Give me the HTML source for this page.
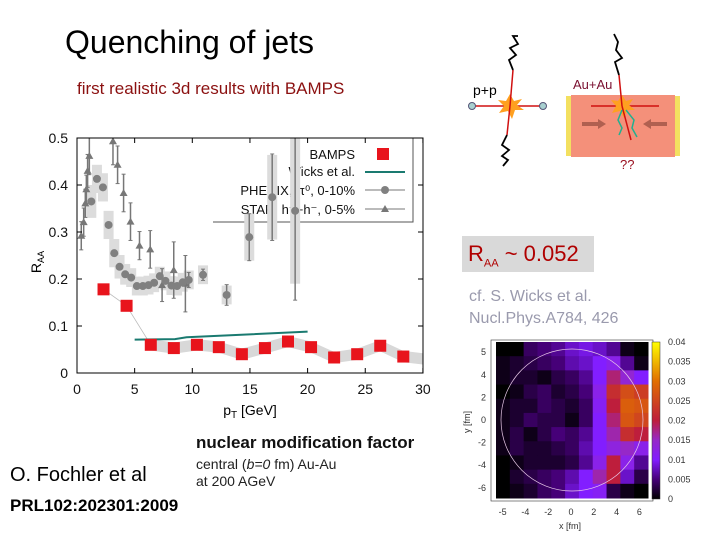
<!DOCTYPE html>
<html><head><meta charset="utf-8"><style>
body{margin:0;background:#fff;width:720px;height:540px;overflow:hidden;position:relative;font-family:"Liberation Sans",sans-serif}
.t{position:absolute;white-space:nowrap}
</style></head><body>
<div class="t" style="left:65px;top:24px;font-size:32px;color:#000">Quenching of jets</div>
<div class="t" style="left:77px;top:79px;font-size:17px;color:#8b1010">first realistic 3d results with BAMPS</div>
<div class="t" style="left:462px;top:236px;width:132px;height:36px;background:#d9d9d9;color:#b00000;font-size:22px;line-height:36px;padding-left:6px;box-sizing:border-box">R<sub style="font-size:11px">AA</sub> ~ 0.052</div>
<div class="t" style="left:469px;top:286px;font-size:16px;color:#9a9aad;line-height:22px">cf. S. Wicks et al.<br>Nucl.Phys.A784, 426</div>
<div class="t" style="left:196px;top:433px;font-size:17px;font-weight:bold;color:#111">nuclear modification factor</div>
<div class="t" style="left:196px;top:456px;font-size:14px;color:#222;line-height:17px">central (<i>b=0</i> fm) Au-Au<br>at 200 AGeV</div>
<div class="t" style="left:10px;top:464px;font-size:20px;color:#000">O. Fochler et al</div>
<div class="t" style="left:10px;top:496px;font-size:17px;font-weight:bold;color:#000">PRL102:202301:2009</div>

<svg id="diag" width="720" height="540" style="position:absolute;left:0;top:0" xmlns="http://www.w3.org/2000/svg">
<g>
<line x1="473" y1="106" x2="543" y2="106" stroke="#d01010" stroke-width="1.5"/>
<circle cx="472" cy="106" r="3.5" fill="#a8d0d0" stroke="#557"/>
<circle cx="543" cy="106" r="3.5" fill="#a8d0d0" stroke="#557"/>
<polygon points="510,94 514,101 522,99 517,105 524,110 515,110 512,119 508,111 499,113 504,106 498,100 506,101" fill="#ffa020"/>
<line x1="510" y1="106" x2="513" y2="70" stroke="#d01010" stroke-width="1.5"/>
<line x1="510" y1="106" x2="507" y2="135" stroke="#d01010" stroke-width="1.5"/>
<path d="M513 70 L509 60 L516 55 L510 48 L518 44 L513 36 L518 36" stroke="#000" fill="none" stroke-width="1.8"/>
<path d="M507 135 L502 145 L509 150 L502 156 L508 160 L503 166" stroke="#000" fill="none" stroke-width="1.8"/>
<text x="473" y="95" font-size="14" font-family="Liberation Sans" fill="#000">p+p</text>
</g>
<g>
<rect x="566" y="96" width="114" height="60" fill="#f3e060"/>
<rect x="571" y="95" width="104" height="62" fill="#f4907a"/>
<line x1="591" y1="106" x2="659" y2="106" stroke="#d01010" stroke-width="1.5"/>
<polygon points="622,95 626,101 633,99 629,105 635,110 627,110 624,118 620,111 612,113 616,106 611,100 618,101" fill="#ffa020"/>
<line x1="622" y1="106" x2="619" y2="75" stroke="#d01010" stroke-width="1.5"/>
<line x1="622" y1="106" x2="631" y2="140" stroke="#d01010" stroke-width="1.5"/>
<path d="M619 75 L615 62 L622 58 L616 50 L618 42 L614 34" stroke="#000" fill="none" stroke-width="1.8"/>
<path d="M582 124 L600 124" stroke="#b06050" stroke-width="4"/><polygon points="598,119 606,124 598,129" fill="#b06050"/>
<path d="M667 124 L649 124" stroke="#b06050" stroke-width="4"/><polygon points="651,119 643,124 651,129" fill="#b06050"/>
<path d="M622 110 L618 120 L622 128 L619 135" stroke="#20b090" fill="none" stroke-width="1.5"/>
<path d="M626 110 L634 120 L632 128 L637 137" stroke="#20b090" fill="none" stroke-width="1.5"/>
<text x="573" y="89" font-size="13" font-family="Liberation Sans" fill="#7a1030">Au+Au</text>
<text x="620" y="169" font-size="13" font-family="Liberation Sans" fill="#9a1020">??</text>
</g>
</svg>

<svg id="chart" width="720" height="540" style="position:absolute;left:0;top:0" xmlns="http://www.w3.org/2000/svg" font-family="Liberation Sans"></svg>
<svg id="heat" width="720" height="540" style="position:absolute;left:0;top:0" xmlns="http://www.w3.org/2000/svg" font-family="Liberation Sans"></svg>

<script>
const xTicks=[0,5,10,15,20,25,30];
const yTicks=[0,0.1,0.2,0.3,0.4,0.5];
const yTickLabels=["0","0.1","0.2","0.3","0.4","0.5"];
const bampsX=[2.3,4.3,6.4,8.4,10.4,12.3,14.3,16.3,18.3,20.3,22.3,24.3,26.3,28.3];
const bampsY=[0.178,0.143,0.06,0.053,0.06,0.055,0.04,0.053,0.067,0.055,0.033,0.04,0.058,0.035];
const wicksX=[5,8.5,9.5,20];
const wicksY=[0.071,0.072,0.076,0.088];
const phenixX=[1.24,1.73,2.25,2.74,3.23,3.69,4.18,4.70,5.19,5.71,6.2,6.69,7.18,7.67,8.19,8.68,9.17,9.69,10.93,12.98,14.94,16.93,18.92];
const phenixY=[0.365,0.413,0.395,0.315,0.255,0.226,0.21,0.203,0.185,0.185,0.187,0.192,0.206,0.196,0.186,0.185,0.193,0.198,0.209,0.166,0.289,0.374,0.345];
const phenixErr=[0.005,0.005,0.005,0.005,0.005,0.005,0.005,0.005,0.005,0.005,0.005,0.005,0.005,0.005,0.005,0.005,0.005,0.016,0.012,0.022,0.05,0.092,0.19];
const phenixSys=[0.035,0.03,0.03,0.03,0.03,0.025,0.022,0.02,0.02,0.02,0.02,0.02,0.02,0.02,0.02,0.02,0.02,0.02,0.02,0.02,0.05,0.09,0.155];
const starX=[0.37,0.58,0.72,0.81,0.92,1.07,3.12,3.52,4.04,4.64,5.42,6.35,7.38,8.39,9.4];
const starY=[0.292,0.321,0.361,0.391,0.43,0.462,0.493,0.443,0.383,0.322,0.271,0.263,0.187,0.219,0.19];
const starErr=[0.03,0.03,0.03,0.03,0.035,0.04,0.05,0.04,0.04,0.04,0.03,0.04,0.035,0.06,0.06];

const X=v=>77+v*11.53, Y=v=>373-v*470;
const NS="http://www.w3.org/2000/svg";
function mk(p,tag,a){const e=document.createElementNS(NS,tag);for(const k in a)e.setAttribute(k,a[k]);p.appendChild(e);return e;}
const svg=document.getElementById('chart');
// legend (drawn first, transparent, so data shows on top)
const lg=mk(svg,'g',{});


mk(lg,'polyline',{points:'213,222 413,222 413,138',fill:'none',stroke:'#555'});
[['BAMPS',159],['Wicks et al.',176],['PHENIX, π⁰, 0-10%',195],['STAR, h⁺+h⁻, 0-5%',214]].forEach(([s,y])=>{const e=mk(lg,'text',{x:355,y:y,'font-size':13,'text-anchor':'end',fill:'#111'});e.textContent=s;
 
 });
mk(lg,'rect',{x:377,y:148,width:12,height:12,fill:'#e8141c'});
mk(lg,'line',{x1:365,x2:405,y1:172,y2:172,stroke:'#1a7a70','stroke-width':2});
mk(lg,'line',{x1:365,x2:405,y1:190,y2:190,stroke:'#777'});mk(lg,'circle',{cx:385,cy:190,r:4,fill:'#808080'});
mk(lg,'line',{x1:365,x2:405,y1:209,y2:209,stroke:'#777'});mk(lg,'polygon',{points:'385,205 381,212 389,212',fill:'#777'});

const clip=mk(svg,'clipPath',{id:'pc'});mk(clip,'rect',{x:77,y:138,width:346,height:235});
const g=mk(svg,'g',{'clip-path':'url(#pc)'});


phenixX.forEach((x,i)=>{const r=mk(g,'rect',{x:X(x)-5,y:Y(phenixY[i]+phenixSys[i]),width:10,height:phenixSys[i]*2*470,fill:'#dcdcdc'});

});
let up=[],dn=[];
bampsX.forEach((x,i)=>{if(x>5){up.push(X(x)+','+Y(bampsY[i]+0.012));dn.unshift(X(x)+','+Y(bampsY[i]-0.012));}});
up.push(X(30)+','+Y(bampsY[bampsY.length-1]-0.005+0.012));dn.unshift(X(30)+','+Y(bampsY[bampsY.length-1]-0.005-0.012));
const bb=mk(g,'polygon',{points:up.concat(dn).join(' '),fill:'#d8d8d8'});


mk(g,'polyline',{points:bampsX.slice(0,3).map((x,i)=>X(x)+','+Y(bampsY[i])).join(' '),fill:'none',stroke:'#bbb','stroke-width':0.8});
starX.forEach((x,i)=>{
 mk(g,'line',{x1:X(x),x2:X(x),y1:Y(starY[i]-starErr[i]),y2:Y(starY[i]+starErr[i]),stroke:'#777','stroke-width':1.5});
 mk(g,'line',{x1:X(x)-2,x2:X(x)+2,y1:Y(starY[i]-starErr[i]),y2:Y(starY[i]-starErr[i]),stroke:'#777'});
 mk(g,'line',{x1:X(x)-2,x2:X(x)+2,y1:Y(starY[i]+starErr[i]),y2:Y(starY[i]+starErr[i]),stroke:'#777'});
 const t=mk(g,'polygon',{points:`${X(x)},${Y(starY[i])-4} ${X(x)-4},${Y(starY[i])+3} ${X(x)+4},${Y(starY[i])+3}`,fill:'#777'});
 
 
});
phenixX.forEach((x,i)=>{
 if(phenixErr[i]>0.006){mk(g,'line',{x1:X(x),x2:X(x),y1:Y(phenixY[i]-phenixErr[i]),y2:Y(phenixY[i]+phenixErr[i]),stroke:'#777','stroke-width':1.5});
 mk(g,'line',{x1:X(x)-2,x2:X(x)+2,y1:Y(phenixY[i]-phenixErr[i]),y2:Y(phenixY[i]-phenixErr[i]),stroke:'#777'});
 mk(g,'line',{x1:X(x)-2,x2:X(x)+2,y1:Y(phenixY[i]+phenixErr[i]),y2:Y(phenixY[i]+phenixErr[i]),stroke:'#777'});}
 const c=mk(g,'circle',{cx:X(x),cy:Y(phenixY[i]),r:4,fill:'#808080'});
 
 
});
const wl=mk(g,'polyline',{points:wicksX.map((x,i)=>X(x)+','+Y(wicksY[i])).join(' '),fill:'none',stroke:'#1a7a70','stroke-width':2});


bampsX.forEach((x,i)=>{const r=mk(g,'rect',{x:X(x)-6,y:Y(bampsY[i])-6,width:12,height:12,fill:'#e8141c'});

});
mk(svg,'rect',{x:77,y:138,width:346,height:235,fill:'none',stroke:'#000','stroke-width':1});
xTicks.forEach(v=>{mk(svg,'line',{x1:X(v),x2:X(v),y1:373,y2:368,stroke:'#000'});mk(svg,'line',{x1:X(v),x2:X(v),y1:138,y2:143,stroke:'#000'});
 const t=mk(svg,'text',{x:X(v),y:394,'font-size':14,'text-anchor':'middle',fill:'#111'});t.textContent=v;
 
 });
yTicks.forEach((v,i)=>{mk(svg,'line',{x1:77,x2:82,y1:Y(v),y2:Y(v),stroke:'#000'});mk(svg,'line',{x1:423,x2:418,y1:Y(v),y2:Y(v),stroke:'#000'});
 const t=mk(svg,'text',{x:68,y:Y(v)+5,'font-size':14,'text-anchor':'end',fill:'#111'});t.textContent=yTickLabels[i];
 
 });
let t=mk(svg,'text',{x:250,y:415,'font-size':14,'text-anchor':'middle'});t.innerHTML='p<tspan font-size="10" dy="3">T</tspan><tspan dy="-3"> [GeV]</tspan>';


t=mk(svg,'text',{transform:'translate(41,262) rotate(-90)','font-size':14,'text-anchor':'middle'});t.innerHTML='R<tspan font-size="9" dy="3">AA</tspan>';



// heatmap
const heatRows=[
[0,0,.004,.005,.006,.008,.009,.008,.006,.001,0],
[.001,.002,.003,.004,.005,.007,.008,.010,.012,.006,.001],
[.001,.002,.002,.001,.003,.004,.006,.010,.018,.014,.010],
[0,.001,.003,.004,.002,.003,.005,.012,.022,.026,.024],
[.001,.002,.002,.004,.003,.002,.004,.011,.020,.028,.027],
[.001,.002,.004,.003,.003,.001,.004,.010,.018,.027,.025],
[.001,.003,.001,.003,.005,.004,.006,.010,.016,.022,.020],
[.001,.003,.002,.002,.003,.004,.007,.010,.013,.015,.012],
[0,.001,.002,.002,.002,.003,.006,.012,.020,.012,.006],
[0,.002,.003,.004,.005,.007,.010,.016,.020,.008,.003],
[0,.001,.002,.004,.005,.008,.010,.011,.003,.001,0]];
const hxTicks=[-6,-4,-2,0,2,4,6];
const hxLabels=["-5","-4","-2","0","2","4","6"];
const hyTicks=[6,4,2,0,-2,-4,-6];
const hyLabels=["5","4","2","0","-2","-4","-6"];
const cbTicks=[0,0.005,0.01,0.015,0.02,0.025,0.03,0.035,0.04];
const cbLabels=["0","0.005","0.01","0.015","0.02","0.025","0.03","0.035","0.04"];
const stops=[[0,[0,0,0]],[0.005,[70,0,120]],[0.01,[130,30,255]],[0.015,[150,40,200]],[0.02,[190,30,60]],[0.03,[225,110,0]],[0.04,[255,255,0]]];
function cmap(v){for(let i=1;i<stops.length;i++){if(v<=stops[i][0]){const a=stops[i-1],b=stops[i],f=(v-a[0])/(b[0]-a[0]);return 'rgb('+a[1].map((c,k)=>Math.round(c+(b[1][k]-c)*f)).join(',')+')';}}return 'rgb(255,255,0)';}
const hs=document.getElementById('heat');
const HX=v=>571+v*11.4, HY=v=>420-v*11.3;
const x0=496,y0=342,cw=(648-496)/11,ch=(498-342)/11;
heatRows.forEach((row,r)=>row.forEach((v,c)=>{const e=mk(hs,'rect',{x:x0+c*cw,y:y0+r*ch,width:cw+0.5,height:ch+0.5,fill:cmap(v)});
 
 }));
mk(hs,'circle',{cx:572,cy:420,r:71,fill:'none',stroke:'#e8c8e8','stroke-width':0.7});
mk(hs,'rect',{x:491,y:340,width:162,height:161,fill:'none',stroke:'#333','stroke-width':0.6});
hxTicks.forEach((v,i)=>{const e=mk(hs,'text',{x:HX(v),y:515,'font-size':9,'text-anchor':'middle',fill:'#333'});e.textContent=hxLabels[i];
 
 });
hyTicks.forEach((v,i)=>{const e=mk(hs,'text',{x:486,y:HY(v)+3,'font-size':9,'text-anchor':'end',fill:'#333'});e.textContent=hyLabels[i];
 
 });
let e=mk(hs,'text',{x:570,y:529,'font-size':9,'text-anchor':'middle',fill:'#333'});e.textContent='x [fm]';


e=mk(hs,'text',{transform:'translate(470,422) rotate(-90)','font-size':9,'text-anchor':'middle',fill:'#333'});e.textContent='y [fm]';


const gr=mk(hs,'linearGradient',{id:'cb',x1:0,y1:1,x2:0,y2:0});
stops.forEach(s=>mk(gr,'stop',{offset:s[0]/0.04,'stop-color':cmap(s[0])}));
const cb=mk(hs,'rect',{x:652,y:342,width:8,height:157,fill:'url(#cb)',stroke:'#333','stroke-width':0.5});


cbTicks.forEach((v,i)=>{const e=mk(hs,'text',{x:668,y:499-v/0.04*157+3,'font-size':9,fill:'#333'});e.textContent=cbLabels[i];
 
 });
</script>
</body></html>
